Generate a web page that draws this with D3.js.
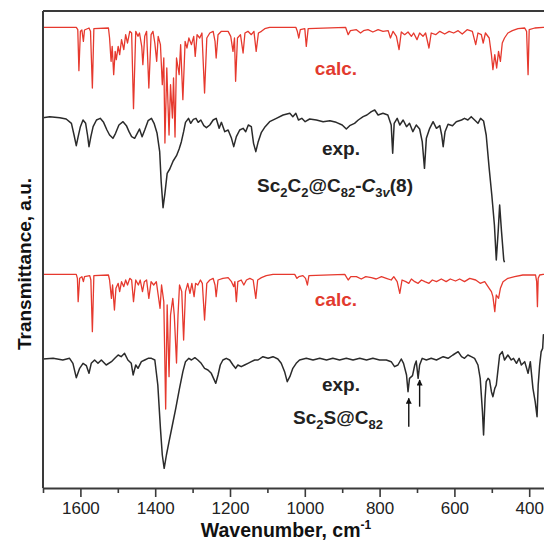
<!DOCTYPE html>
<html>
<head>
<meta charset="utf-8">
<script src="https://cdn.jsdelivr.net/npm/d3@7"></script>
<style>
  body { margin: 0; background: #fff; }
  text { font-family: "Liberation Sans", Arial, Helvetica, sans-serif; }
</style>
</head>
<body>
<svg id="chart" width="544" height="542"></svg>
<script>
// IR spectra of Sc2C2@C82-C3v(8) and Sc2S@C82: calculated vs experimental.
// Each trace is [wavenumber (cm-1), transmittance (a.u., stacked)].

const calcTop = [
  [1700,138.2],[1611,138.2],[1607,137.5],[1604,125.2],[1600,137.0],[1596,137.4],[1592,134.0],[1589,137.4],
  [1577,138.0],[1573,137.0],[1568,120.0],[1564,137.8],[1525,138.0],[1522,135.0],[1518,128.0],[1515,132.5],
  [1511,124.0],[1507,131.0],[1504,128.5],[1499,132.5],[1495,130.0],[1490,134.5],[1484,131.5],[1479,136.0],
  [1474,133.5],[1468,137.0],[1463,136.5],[1458,113.8],[1452,137.0],[1446,135.5],[1442,136.5],[1436,132.5],
  [1433,127.0],[1428,135.5],[1423,137.0],[1417,120.0],[1411,136.0],[1406,137.0],[1401,133.5],[1396,128.0],
  [1392,135.5],[1386,133.0],[1381,121.0],[1377,129.0],[1374,103.5],[1369,126.0],[1363,105.9],[1359,121.0],
  [1354,111.0],[1351,123.0],[1347,105.3],[1343,129.0],[1336,124.0],[1332,133.0],[1326,116.5],[1320,134.0],
  [1315,132.0],[1310,135.0],[1303,133.0],[1297,135.5],[1293,129.5],[1288,136.0],[1281,135.0],[1275,136.5],
  [1268,118.5],[1262,135.0],[1254,136.5],[1245,137.0],[1240,134.0],[1237,129.0],[1232,136.0],[1223,137.0],
  [1205,137.0],[1198,135.5],[1192,131.0],[1188,135.0],[1185,122.0],[1180,135.0],[1172,136.0],[1165,130.5],
  [1160,136.5],[1152,137.0],[1143,136.0],[1136,137.0],[1130,131.0],[1124,136.5],[1116,137.0],[1107,137.8],
  [1094,138.2],[1024,138.2],[1020,137.0],[1016,135.0],[1012,137.5],[1000,137.8],[996,132.5],[991,137.8],
  [891,138.2],[884,136.0],[878,137.2],[862,137.5],[851,136.5],[843,137.2],[831,137.5],[818,136.8],
  [804,137.5],[791,137.0],[777,137.2],[771,135.0],[764,137.0],[755,135.5],[748,131.5],[742,136.8],
  [733,136.0],[724,136.8],[715,135.5],[709,136.5],[700,134.5],[693,136.5],[684,135.5],[677,136.5],
  [668,132.0],[662,136.5],[650,136.0],[639,137.0],[626,136.2],[614,137.0],[602,136.5],[590,137.2],
  [579,136.2],[566,137.5],[552,137.0],[543,133.0],[537,136.5],[528,136.0],[523,133.5],[517,136.5],
  [507,135.0],[501,130.0],[497,125.5],[492,130.0],[487,126.0],[482,131.0],[477,128.0],[472,133.5],
  [466,135.0],[457,136.5],[445,137.2],[430,137.8],[412,138.0],[407,137.0],[403,124.0],[400,137.5],
  [385,138.0],[363,138.2],[350,138.2]
];

const expTop = [
  [1700,111.1],[1682,111.4],[1655,111.1],[1638,110.7],[1624,109.4],[1617,105.9],[1611,102.7],[1606,105.4],
  [1600,108.4],[1593,110.4],[1586,109.4],[1581,105.9],[1577,102.4],[1572,105.4],[1566,108.4],[1557,110.4],
  [1547,110.9],[1538,109.7],[1529,107.4],[1522,105.9],[1513,104.9],[1506,106.4],[1497,108.9],[1486,109.9],
  [1477,108.7],[1470,106.9],[1463,105.4],[1455,104.9],[1448,106.4],[1442,107.7],[1435,105.4],[1428,107.4],
  [1419,110.2],[1410,110.9],[1403,109.4],[1395,106.4],[1388,100.9],[1384,91.9],[1379,84.1],[1374,88.4],
  [1368,94.4],[1361,95.7],[1352,98.1],[1343,99.7],[1336,101.7],[1330,103.9],[1324,106.9],[1319,109.7],
  [1311,110.9],[1305,109.4],[1298,110.6],[1291,110.9],[1285,109.7],[1278,110.4],[1270,108.7],[1263,108.1],
  [1254,108.9],[1245,110.4],[1237,110.9],[1229,107.9],[1223,109.7],[1214,106.9],[1205,107.4],[1196,104.9],
  [1190,102.4],[1183,105.4],[1174,107.4],[1165,107.9],[1158,106.9],[1151,108.9],[1143,108.4],[1137,103.4],
  [1131,100.9],[1125,103.7],[1116,106.7],[1106,108.4],[1094,109.9],[1076,110.9],[1058,111.9],[1040,112.4],
  [1032,111.4],[1024,112.4],[1017,110.4],[1008,110.9],[999,109.9],[987,110.7],[969,110.4],[951,109.9],
  [933,110.2],[916,109.7],[900,108.9],[889,107.7],[880,108.7],[867,109.4],[857,110.4],[844,111.4],
  [834,111.9],[822,112.9],[813,113.4],[804,111.9],[791,112.4],[778,111.9],[769,108.9],[765,100.4],
  [761,109.4],[753,110.9],[746,108.9],[737,110.4],[728,108.4],[720,109.4],[711,106.9],[702,108.9],
  [693,107.7],[686,103.9],[680,95.9],[675,104.9],[666,107.9],[657,109.9],[648,107.9],[639,108.7],
  [634,105.9],[630,102.4],[625,106.9],[617,109.1],[605,108.7],[595,109.9],[581,110.4],[573,110.9],
  [564,110.4],[555,111.4],[546,110.4],[537,109.4],[530,110.9],[522,110.1],[515,105.9],[507,95.9],
  [500,87.9],[493,78.9],[488,68.4],[483,76.9],[479,84.9],[474,76.9],[468,68.4],[466,67.7]
];

const calcBottom = [
  [1700,64.1],[1611,64.1],[1608,62.9],[1606,55.9],[1602,62.9],[1596,63.4],[1592,61.9],[1589,63.4],
  [1575,63.7],[1572,62.4],[1568,46.9],[1564,63.7],[1525,63.9],[1522,62.4],[1517,56.9],[1514,60.9],
  [1509,53.4],[1505,59.9],[1499,61.4],[1495,58.9],[1490,61.9],[1484,60.4],[1479,62.4],[1474,60.9],
  [1468,62.9],[1463,62.4],[1458,55.9],[1452,62.4],[1445,60.9],[1440,62.4],[1434,58.9],[1429,61.9],
  [1423,62.4],[1417,56.9],[1411,61.9],[1404,60.9],[1397,61.9],[1392,57.9],[1387,53.9],[1383,60.9],
  [1377,55.9],[1372,23.7],[1368,54.9],[1363,33.4],[1359,51.9],[1353,56.9],[1349,51.9],[1343,37.5],
  [1339,51.9],[1335,60.9],[1329,58.9],[1324,44.4],[1319,58.9],[1313,61.4],[1307,58.4],[1302,61.4],
  [1296,57.4],[1292,61.4],[1286,60.9],[1279,62.4],[1274,61.4],[1268,50.4],[1262,61.4],[1254,62.4],
  [1245,62.9],[1240,60.9],[1237,57.4],[1232,62.4],[1219,62.9],[1205,63.1],[1196,61.9],[1190,60.4],
  [1187,61.9],[1183,55.9],[1179,61.9],[1170,62.4],[1163,60.9],[1156,62.4],[1147,62.9],[1138,62.4],
  [1131,56.9],[1126,62.4],[1116,63.1],[1103,63.7],[1085,64.1],[1027,64.1],[1021,62.9],[1016,63.4],
  [1005,63.7],[998,62.9],[993,60.9],[989,63.7],[893,64.1],[884,62.4],[877,63.4],[862,63.4],
  [849,62.7],[837,63.4],[822,63.1],[809,62.7],[795,63.4],[782,62.9],[769,62.4],[762,63.4],
  [753,61.9],[746,58.4],[740,62.4],[730,61.9],[722,61.4],[715,62.7],[706,61.9],[697,61.4],
  [688,62.4],[679,61.9],[668,61.4],[659,62.4],[648,61.9],[635,62.7],[622,61.9],[611,62.7],
  [597,62.1],[586,62.7],[573,61.9],[559,62.9],[543,62.4],[531,61.4],[519,61.9],[507,59.9],
  [501,58.9],[497,57.4],[492,52.9],[488,57.9],[482,56.9],[477,59.9],[470,61.9],[457,62.9],
  [439,63.4],[417,63.9],[383,63.9],[380,61.9],[378,54.4],[376,62.9],[372,63.9],[363,64.1],
  [350,64.1]
];

const expBottom = [
  [1700,38.7],[1673,38.9],[1647,38.4],[1629,38.9],[1620,37.4],[1611,33.1],[1602,35.9],[1593,37.4],
  [1584,36.7],[1577,34.4],[1571,37.4],[1562,38.4],[1553,37.4],[1544,38.4],[1531,36.9],[1517,37.9],
  [1508,38.9],[1499,39.9],[1491,39.4],[1482,40.4],[1473,38.4],[1464,37.4],[1459,33.9],[1452,36.9],
  [1446,35.9],[1437,37.9],[1428,38.4],[1419,38.9],[1410,38.9],[1401,38.4],[1393,30.9],[1386,17.9],
  [1381,9.9],[1376,5.9],[1370,9.9],[1363,13.9],[1354,18.9],[1345,23.9],[1335,29.9],[1326,34.9],
  [1319,37.9],[1310,38.9],[1303,38.4],[1294,39.1],[1286,38.4],[1277,37.4],[1268,35.9],[1259,35.4],
  [1250,34.4],[1244,32.9],[1238,31.4],[1232,33.9],[1226,36.9],[1219,38.4],[1210,38.9],[1201,38.4],
  [1192,36.9],[1185,35.9],[1179,36.9],[1170,36.4],[1161,36.9],[1152,37.4],[1143,37.9],[1134,38.4],
  [1125,38.4],[1112,39.4],[1098,38.9],[1085,39.4],[1072,38.7],[1063,37.4],[1054,34.9],[1047,31.9],
  [1040,33.4],[1032,35.9],[1023,37.4],[1014,38.4],[996,38.9],[978,38.4],[960,38.9],[942,38.4],
  [925,38.9],[907,38.4],[889,38.9],[871,38.4],[853,38.9],[835,38.4],[818,38.9],[800,38.4],
  [782,38.4],[769,37.9],[760,36.4],[751,36.9],[742,38.7],[736,37.4],[728,33.9],[724,28.9],
  [720,32.9],[712,33.7],[706,36.9],[702,38.1],[697,32.9],[693,36.9],[686,38.9],[675,38.4],
  [662,38.9],[648,38.4],[630,39.4],[617,38.9],[604,39.9],[590,40.9],[581,39.4],[573,38.9],
  [564,39.9],[555,39.4],[546,38.9],[537,36.9],[531,32.9],[525,22.9],[522,15.9],[518,26.9],
  [515,31.9],[510,32.9],[506,32.4],[501,28.9],[497,27.4],[492,29.9],[488,30.9],[483,35.9],
  [479,39.9],[472,40.9],[466,38.4],[457,39.9],[448,38.4],[442,38.9],[434,37.4],[427,38.9],
  [421,36.9],[412,37.9],[403,34.4],[397,37.9],[390,29.9],[384,25.9],[379,21.4],[376,30.9],
  [372,36.9],[368,40.9],[364,41.9],[362,46.0],[350,44.0]
];

// Arrows marking the Sc-S modes: [wavenumber, from, to]
const arrows = [[722, 18.4, 26.9], [693, 24.4, 32.4]];

const majorTicks = [1600, 1400, 1200, 1000, 800, 600, 400];
const minorTicks = [1700, 1500, 1300, 1100, 900, 700, 500];

const svg = d3.select("#chart");
const plotLeft = 43, plotTop = 11, plotBottom = 488;

const x = d3.scaleLinear().domain([1700, 350]).range([plotLeft, plotLeft + 1350 * 0.374]);
const y = d3.scaleLinear().domain([0, 143.1]).range([plotBottom, plotTop]);

const line = d3.line().x(d => x(d[0])).y(d => y(d[1]));

const defs = svg.append("defs");
defs.append("clipPath").attr("id", "plot")
  .append("rect").attr("x", plotLeft).attr("y", plotTop).attr("width", 600).attr("height", plotBottom - plotTop);

const traces = svg.append("g").attr("clip-path", "url(#plot)");
const red = "#e6392e", dark = "#2b2b2b";
[[calcTop, red, 1.3], [expTop, dark, 1.5], [calcBottom, red, 1.3], [expBottom, dark, 1.5]]
  .forEach(([data, color, w]) => {
    traces.append("path").datum(data)
      .attr("d", line).attr("fill", "none")
      .attr("stroke", color).attr("stroke-width", w).attr("stroke-linejoin", "round");
  });

// Arrows
defs.append("marker").attr("id", "head")
  .attr("viewBox", "0 0 10 10").attr("refX", 9).attr("refY", 5)
  .attr("markerWidth", 7).attr("markerHeight", 6).attr("markerUnits", "userSpaceOnUse")
  .attr("orient", "auto")
  .append("path").attr("d", "M0,0 L10,5 L0,10 Z").attr("fill", "#111");
svg.append("g").selectAll("line").data(arrows).join("line")
  .attr("x1", d => x(d[0])).attr("x2", d => x(d[0]))
  .attr("y1", d => y(d[1])).attr("y2", d => y(d[2]))
  .attr("stroke", "#111").attr("stroke-width", 1.4)
  .attr("marker-end", "url(#head)");

// Frame
const frameColor = "#3a3a3a";
svg.append("line").attr("x1", plotLeft).attr("x2", 560).attr("y1", plotTop).attr("y2", plotTop)
  .attr("stroke", frameColor).attr("stroke-width", 2);
svg.append("line").attr("x1", plotLeft).attr("x2", plotLeft).attr("y1", plotTop).attr("y2", plotBottom)
  .attr("stroke", frameColor).attr("stroke-width", 2);

// X axis
const xAxis = svg.append("g").attr("transform", `translate(0,${plotBottom})`);
xAxis.call(d3.axisBottom(x).tickValues(majorTicks).tickFormat(d3.format("d"))
  .tickSize(9).tickSizeOuter(0).tickPadding(5));
xAxis.append("g").call(d3.axisBottom(x).tickValues(minorTicks).tickSize(5).tickSizeOuter(0).tickFormat(""))
  .select(".domain").remove();
xAxis.selectAll(".domain").attr("stroke", frameColor).attr("stroke-width", 2)
  .attr("d", `M${plotLeft},0.5H560`);
xAxis.selectAll(".tick line").attr("stroke", frameColor).attr("stroke-width", 1.6);
xAxis.selectAll(".tick text").attr("fill", "#222").style("font-size", "17px")
  .style("font-family", "'Liberation Sans', Arial, sans-serif");

// Axis titles
const title = svg.append("text").attr("x", 286).attr("y", 537).attr("text-anchor", "middle")
  .attr("font-weight", "bold").attr("font-size", 19.5).attr("fill", "#111");
title.append("tspan").text("Wavenumber, cm");
title.append("tspan").attr("dy", -8).attr("font-size", 12).text("-1");

svg.append("text").attr("transform", "translate(31,264) rotate(-90)")
  .attr("text-anchor", "middle").attr("font-weight", "bold").attr("font-size", 19)
  .attr("fill", "#111").text("Transmittance, a.u.");

// Trace labels
function label(xp, yp, color) {
  return svg.append("text").attr("x", xp).attr("y", yp).attr("text-anchor", "middle")
    .attr("font-weight", "bold").attr("font-size", 19).attr("fill", color);
}
label(336, 75, "#e23a2e").text("calc.");
label(341, 155, "#222").text("exp.");
label(336, 306, "#e23a2e").text("calc.");
label(341, 391, "#222").text("exp.");

// Formula pieces: [text, shift (0 normal, 1 subscript), italic]
function formula(t, parts) {
  let level = 0;
  parts.forEach(([s, lv, it]) => {
    const span = t.append("tspan").text(s).attr("dy", (lv - level) * 5);
    if (lv) span.attr("font-size", 13);
    if (it) span.attr("font-style", "italic");
    level = lv;
  });
}
formula(label(335, 192, "#222"), [
  ["Sc", 0], ["2", 1], ["C", 0], ["2", 1], ["@C", 0], ["82", 1], ["-", 0],
  ["C", 0, true], ["3", 1], ["v", 1, true], ["(8)", 0]
]);
formula(label(338, 424, "#222"), [["Sc", 0], ["2", 1], ["S@C", 0], ["82", 1]]);
</script>
</body>
</html>
